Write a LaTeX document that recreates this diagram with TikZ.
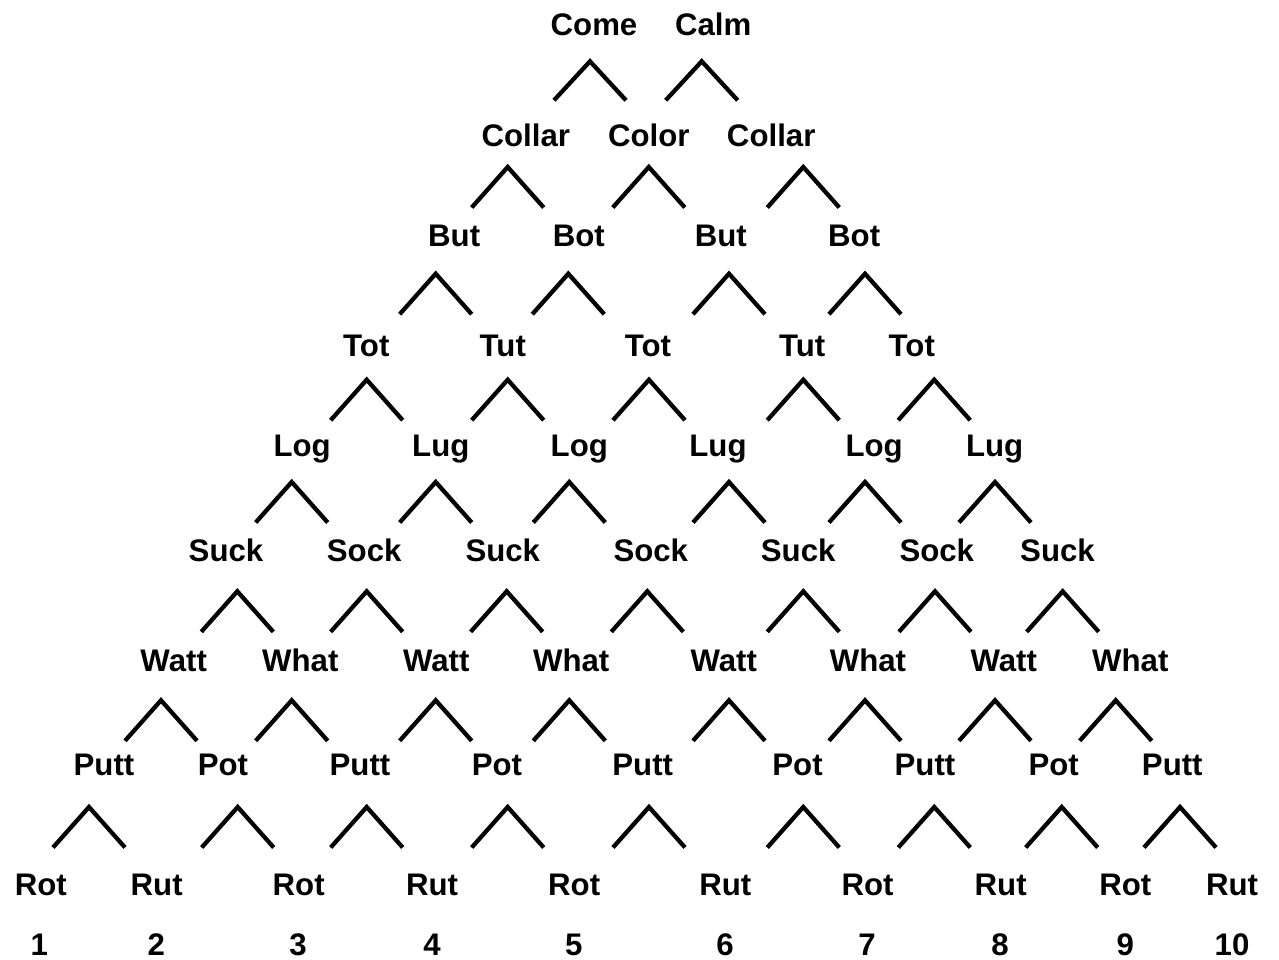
\documentclass[tikz,border=0pt]{standalone}
\usepackage{fontspec}
\setmainfont{Liberation Sans}
\begin{document}
\begin{tikzpicture}[x=0.75pt,y=-0.75pt,
  word/.style={font=\fontsize{23.4}{26}\selectfont\bfseries, anchor=base, inner sep=0pt},
  caretline/.style={draw=black, line width=3.2pt, line cap=butt, line join=miter},
  caret/.pic={\draw[caretline] (-36,43.5) -- (0,3) -- (36,43.5);},
  topcaret/.pic={\draw[caretline] (-36,42) -- (0,3) -- (36,42);}]
\useasboundingbox (0,0) rectangle (1279,960);
% row 1
\node[word] (r1a) at (594,36) {Come};
\node[word] (r1b) at (713.2,36) {Calm};
\pic at (590,58.3) {topcaret};
\pic at (701.7,58.3) {topcaret};
% row 2
\node[word] (r2a) at (525.8,146) {Collar};
\node[word] (r2b) at (648.8,146) {Color};
\node[word] (r2c) at (771.2,146) {Collar};
\foreach \x in {507.7,648.8,803.3} \pic at (\x,164) {caret};
% row 3
\node[word] (r3a) at (454.2,246.7) {But};
\node[word] (r3b) at (578.8,246.7) {Bot};
\node[word] (r3c) at (720.8,246.7) {But};
\node[word] (r3d) at (854.2,246.7) {Bot};
\foreach \x in {435.7,568.3,729,865} \pic at (\x,270.7) {caret};
% row 4
\node[word] (r4a) at (366.3,356) {Tot};
\node[word] (r4b) at (502.8,356) {Tut};
\node[word] (r4c) at (648,356) {Tot};
\node[word] (r4d) at (802.2,356) {Tut};
\node[word] (r4e) at (911.8,356) {Tot};
\foreach \x in {366.7,507.7,649,803.3,934.2} \pic at (\x,376.7) {caret};
% row 5
\node[word] (r5a) at (302.2,456) {Log};
\node[word] (r5b) at (440.8,456) {Lug};
\node[word] (r5c) at (579.3,456) {Log};
\node[word] (r5d) at (718,456) {Lug};
\node[word] (r5e) at (874.2,456) {Log};
\node[word] (r5f) at (994.7,456) {Lug};
\foreach \x in {291.7,435.7,569.3,729,865,995} \pic at (\x,479) {caret};
% row 6
\node[word] (r6a) at (226,561.7) {Suck};
\node[word] (r6b) at (364.2,561.7) {Sock};
\node[word] (r6c) at (502.8,561.7) {Suck};
\node[word] (r6d) at (650.8,561.7) {Sock};
\node[word] (r6e) at (798.2,561.7) {Suck};
\node[word] (r6f) at (936.8,561.7) {Sock};
\node[word] (r6g) at (1057.5,561.7) {Suck};
\foreach \x in {237.3,366.7,506.7,647.3,803.3,935,1062.7} \pic at (\x,588.3) {caret};
% row 7
\node[word] (r7a) at (173.7,671) {Watt};
\node[word] (r7b) at (300.3,671) {What};
\node[word] (r7c) at (436.3,671) {Watt};
\node[word] (r7d) at (571.2,671) {What};
\node[word] (r7e) at (723.8,671) {Watt};
\node[word] (r7f) at (868,671) {What};
\node[word] (r7g) at (1003.8,671) {Watt};
\node[word] (r7h) at (1130.3,671) {What};
\foreach \x in {161,291.7,435.7,569.3,729,865,995,1115.7} \pic at (\x,697.3) {caret};
% row 8
\node[word] (r8a) at (104,775) {Putt};
\node[word] (r8b) at (223,775) {Pot};
\node[word] (r8c) at (360,775) {Putt};
\node[word] (r8d) at (497,775) {Pot};
\node[word] (r8e) at (642.7,775) {Putt};
\node[word] (r8f) at (797.5,775) {Pot};
\node[word] (r8g) at (925,775) {Putt};
\node[word] (r8h) at (1053.7,775) {Pot};
\node[word] (r8i) at (1172.3,775) {Putt};
\foreach \x in {89,237.7,366.7,507.7,649,803.3,934.3,1061.7,1180} \pic at (\x,804) {caret};
% row 9
\node[word] (r9a) at (40.8,895) {Rot};
\node[word] (r9b) at (156.7,895) {Rut};
\node[word] (r9c) at (298.7,895) {Rot};
\node[word] (r9d) at (432,895) {Rut};
\node[word] (r9e) at (574.2,895) {Rot};
\node[word] (r9f) at (725.3,895) {Rut};
\node[word] (r9g) at (867.5,895) {Rot};
\node[word] (r9h) at (1000.7,895) {Rut};
\node[word] (r9i) at (1125.3,895) {Rot};
\node[word] (r9j) at (1232,895) {Rut};
% row 10
\node[word] (n1) at (39.2,955) {1};
\node[word] (n2) at (156.3,955) {2};
\node[word] (n3) at (298,955) {3};
\node[word] (n4) at (432,955) {4};
\node[word] (n5) at (573.7,955) {5};
\node[word] (n6) at (725,955) {6};
\node[word] (n7) at (867,955) {7};
\node[word] (n8) at (1000,955) {8};
\node[word] (n9) at (1125.3,955) {9};
\node[word] (n10) at (1232,955) {10};
\end{tikzpicture}
\end{document}
